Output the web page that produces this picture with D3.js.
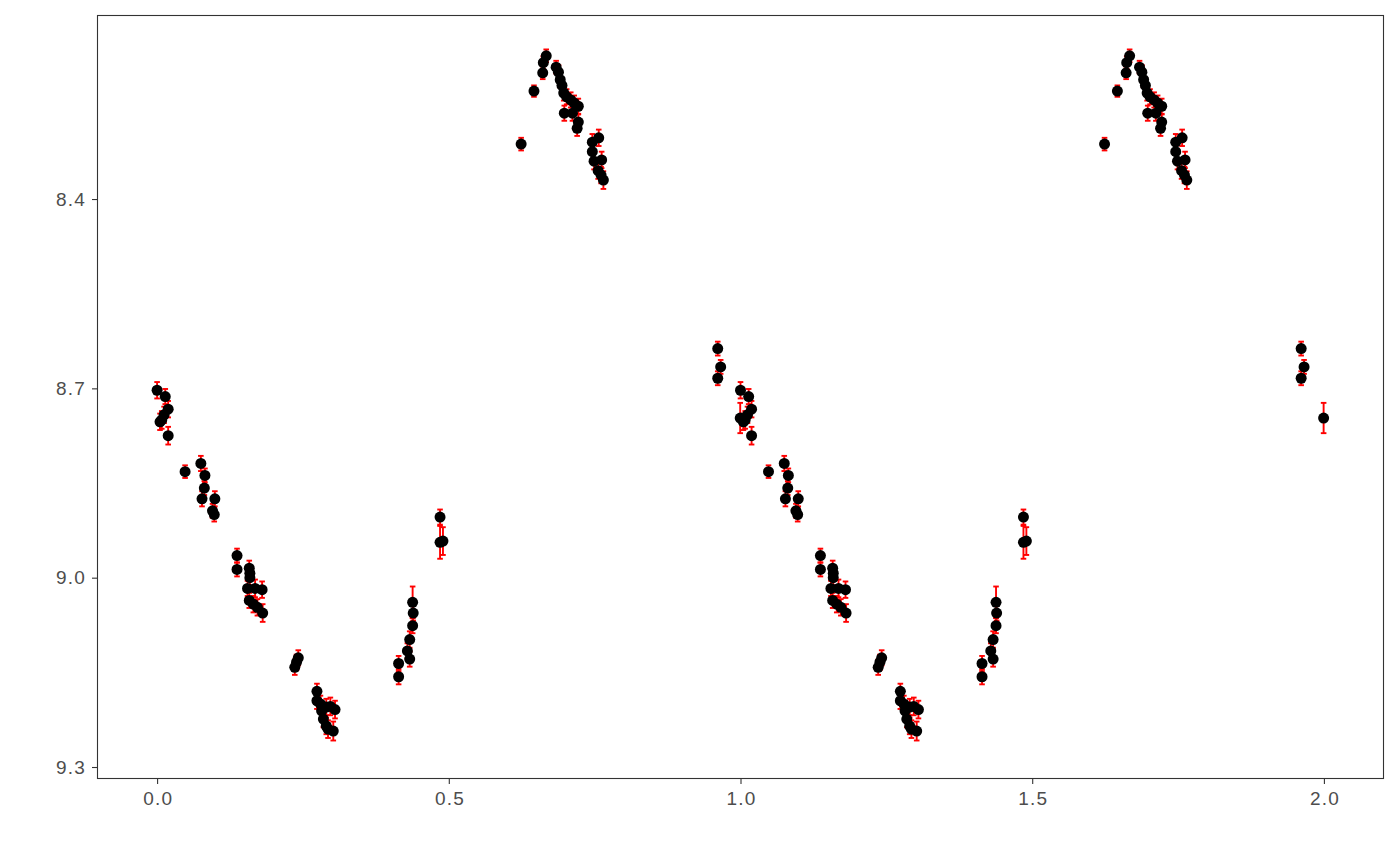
<!DOCTYPE html>
<html><head><meta charset="utf-8">
<script src="https://cdn.jsdelivr.net/npm/d3@7"></script>
<style>body{margin:0;background:#fff;} text{font-family:"Liberation Sans",Arial,sans-serif;}</style>
</head><body><svg id="c" width="1400" height="866"></svg>
<script>
// phase (0-1), magnitude, error; each point plotted at phase and phase+1
const phase = [0.000,0.014,0.019,0.012,0.008,0.005,0.019,
  0.048,0.075,0.082,0.081,0.077,0.099,0.095,0.098,
  0.137,0.137,0.158,0.159,0.159,0.155,0.168,0.180,0.158,0.165,0.172,0.181,
  0.242,0.239,0.236,0.274,0.274,0.280,0.282,0.290,0.297,0.305,0.285,0.290,0.293,0.302,
  0.414,0.414,0.429,0.433,0.433,0.438,0.439,0.438,0.485,0.485,0.490,
  0.624,0.646,0.667,0.662,0.661,0.684,0.688,0.691,0.694,0.697,0.702,0.709,0.715,0.722,0.698,0.712,0.722,0.720,
  0.746,0.757,0.746,0.749,0.762,0.756,0.761,0.765,
  0.961,0.966,0.961,0.9995];
const mag = [8.703,8.713,8.733,8.742,8.750,8.753,8.775,
  8.832,8.819,8.838,8.858,8.875,8.875,8.894,8.900,
  8.965,8.987,8.985,8.993,9.000,9.017,9.017,9.019,9.036,9.042,9.047,9.056,
  9.127,9.134,9.142,9.180,9.195,9.200,9.211,9.205,9.204,9.209,9.224,9.235,9.240,9.243,
  9.136,9.157,9.116,9.129,9.098,9.076,9.056,9.039,8.904,8.944,8.942,
  8.313,8.229,8.173,8.184,8.200,8.191,8.199,8.211,8.220,8.232,8.238,8.243,8.248,8.253,8.264,8.264,8.278,8.288,
  8.310,8.303,8.325,8.340,8.338,8.355,8.362,8.370,
  8.637,8.666,8.684,8.747];
const err = [0.013,0.012,0.013,0.013,0.014,0.013,0.014,
  0.010,0.012,0.011,0.011,0.012,0.012,0.011,0.011,
  0.011,0.011,0.012,0.012,0.012,0.012,0.014,0.013,0.012,0.013,0.013,0.014,
  0.012,0.012,0.012,0.012,0.013,0.013,0.013,0.013,0.014,0.014,0.013,0.013,0.014,0.015,
  0.012,0.012,0.012,0.012,0.013,0.012,0.012,0.025,0.012,0.026,0.022,
  0.010,0.009,0.010,0.010,0.010,0.010,0.011,0.012,0.011,0.012,0.012,0.012,0.012,0.012,0.012,0.012,0.012,0.012,
  0.013,0.013,0.013,0.013,0.013,0.013,0.013,0.014,
  0.011,0.011,0.011,0.024];
const xTicks = [0.0,0.5,1.0,1.5,2.0];
const yTicks = [8.4,8.7,9.0,9.3];

const data = [];
phase.forEach((p,i)=>{ [0,1].forEach(k=>data.push({x:p+k,y:mag[i],e:err[i]})); });

const L=97,R=1384,T=15,B=779;
const svg=d3.select("#c");
const x=d3.scaleLinear().domain([-0.103,2.103]).range([L,R]);
const y=d3.scaleLinear().domain([8.1084,9.319]).range([T,B]);

const g=svg.append("g");
// error bars
const eb=g.append("g").attr("stroke","#ff0000").attr("stroke-width",1.9);
data.forEach(d=>{
  const cx=x(d.x), y1=y(d.y-d.e), y2=y(d.y+d.e);
  eb.append("line").attr("x1",cx).attr("x2",cx).attr("y1",y1).attr("y2",y2);
  eb.append("line").attr("x1",cx-2.8).attr("x2",cx+2.8).attr("y1",y1).attr("y2",y1);
  eb.append("line").attr("x1",cx-2.8).attr("x2",cx+2.8).attr("y1",y2).attr("y2",y2);
});
g.append("g").selectAll("circle").data(data).join("circle")
  .attr("cx",d=>x(d.x)).attr("cy",d=>y(d.y)).attr("r",5.5).attr("fill","#000");

// panel border
svg.append("rect").attr("x",L+0.5).attr("y",T+0.5).attr("width",R-L-1).attr("height",B-T-1)
  .attr("fill","none").attr("stroke","#333").attr("stroke-width",1.1);

const xa=svg.append("g").attr("transform",`translate(0,${B})`)
  .call(d3.axisBottom(x).tickValues(xTicks).tickFormat(d3.format(".1f")).tickSize(5).tickPadding(6));
const ya=svg.append("g").attr("transform",`translate(${L},0)`)
  .call(d3.axisLeft(y).tickValues(yTicks).tickFormat(d3.format(".1f")).tickSize(5).tickPadding(6));
[xa,ya].forEach(a=>{
  a.attr("font-size",null).attr("font-family",null);
  a.select(".domain").remove();
  a.selectAll(".tick line").attr("stroke","#333").attr("stroke-width",1.1);
  a.selectAll(".tick text").attr("fill","#4d4d4d").attr("font-size","19px").style("font-size","19px").style("letter-spacing","1.2px");
});
xa.selectAll(".tick text").attr("dy","0.78em").attr("dx","0.6");
</script></body></html>
